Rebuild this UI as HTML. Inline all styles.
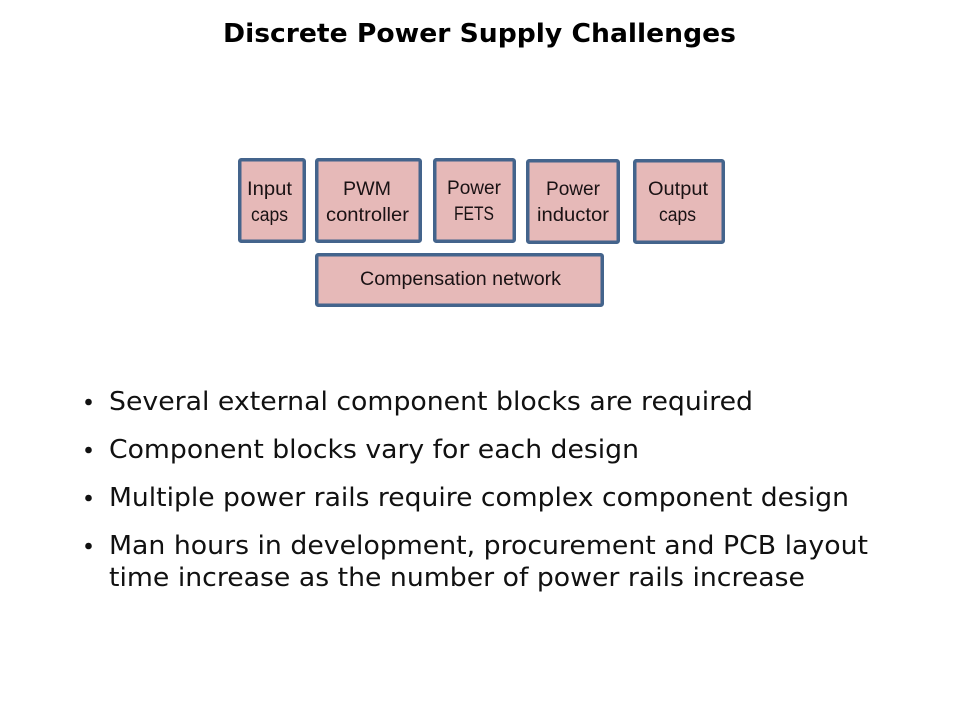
<!DOCTYPE html>
<html>
<head>
<meta charset="utf-8">
<style>
html,body{margin:0;padding:0;background:#fff;width:960px;height:720px;overflow:hidden}
svg{display:block}
.t{font-family:"DejaVu Sans",sans-serif;font-size:26px;fill:#111}
.b{font-family:"Liberation Sans",sans-serif;font-size:19px;fill:#1a1214}
rect{fill:#e6b9b8;stroke:#44648c;stroke-width:3.5}
</style>
</head>
<body>
<svg width="960" height="720" viewBox="0 0 960 720" xmlns="http://www.w3.org/2000/svg">
<text x="223" y="42" font-family="'DejaVu Sans',sans-serif" font-weight="700" font-size="26" fill="#000" textLength="513" lengthAdjust="spacingAndGlyphs">Discrete Power Supply Challenges</text>

<rect x="239.75" y="159.75" width="64.5" height="81.5" rx="1.5"/>
<rect x="316.75" y="159.75" width="103.5" height="81.5" rx="1.5"/>
<rect x="434.75" y="159.75" width="79.5" height="81.5" rx="1.5"/>
<rect x="527.75" y="160.75" width="90.5" height="81.5" rx="1.5"/>
<rect x="634.75" y="160.75" width="88.5" height="81.5" rx="1.5"/>
<rect x="316.75" y="254.75" width="285.5" height="50.5" rx="1.5"/>

<text class="b" x="247" y="195" textLength="45" lengthAdjust="spacingAndGlyphs">Input</text>
<text class="b" x="251" y="221" textLength="37" lengthAdjust="spacingAndGlyphs">caps</text>
<text class="b" x="343" y="195" textLength="48" lengthAdjust="spacingAndGlyphs">PWM</text>
<text class="b" x="326" y="221" textLength="83" lengthAdjust="spacingAndGlyphs">controller</text>
<text class="b" x="447" y="194" textLength="54" lengthAdjust="spacingAndGlyphs">Power</text>
<text class="b" x="454" y="220" textLength="40" lengthAdjust="spacingAndGlyphs">FETS</text>
<text class="b" x="546" y="195" textLength="54" lengthAdjust="spacingAndGlyphs">Power</text>
<text class="b" x="537" y="221" textLength="72" lengthAdjust="spacingAndGlyphs">inductor</text>
<text class="b" x="648" y="195" textLength="60" lengthAdjust="spacingAndGlyphs">Output</text>
<text class="b" x="659" y="221" textLength="37" lengthAdjust="spacingAndGlyphs">caps</text>
<text class="b" x="360" y="285" textLength="201" lengthAdjust="spacingAndGlyphs">Compensation network</text>

<circle cx="88.5" cy="402" r="3.3" fill="#111"/>
<circle cx="88.5" cy="450" r="3.3" fill="#111"/>
<circle cx="88.5" cy="498" r="3.3" fill="#111"/>
<circle cx="88.5" cy="546" r="3.3" fill="#111"/>

<text class="t" x="109" y="410" textLength="644" lengthAdjust="spacingAndGlyphs">Several external component blocks are required</text>
<text class="t" x="109" y="458" textLength="530" lengthAdjust="spacingAndGlyphs">Component blocks vary for each design</text>
<text class="t" x="109" y="506" textLength="740" lengthAdjust="spacingAndGlyphs">Multiple power rails require complex component design</text>
<text class="t" x="109" y="554" textLength="759" lengthAdjust="spacingAndGlyphs">Man hours in development, procurement and PCB layout</text>
<text class="t" x="109" y="586" textLength="696" lengthAdjust="spacingAndGlyphs">time increase as the number of power rails increase</text>
</svg>
</body>
</html>
